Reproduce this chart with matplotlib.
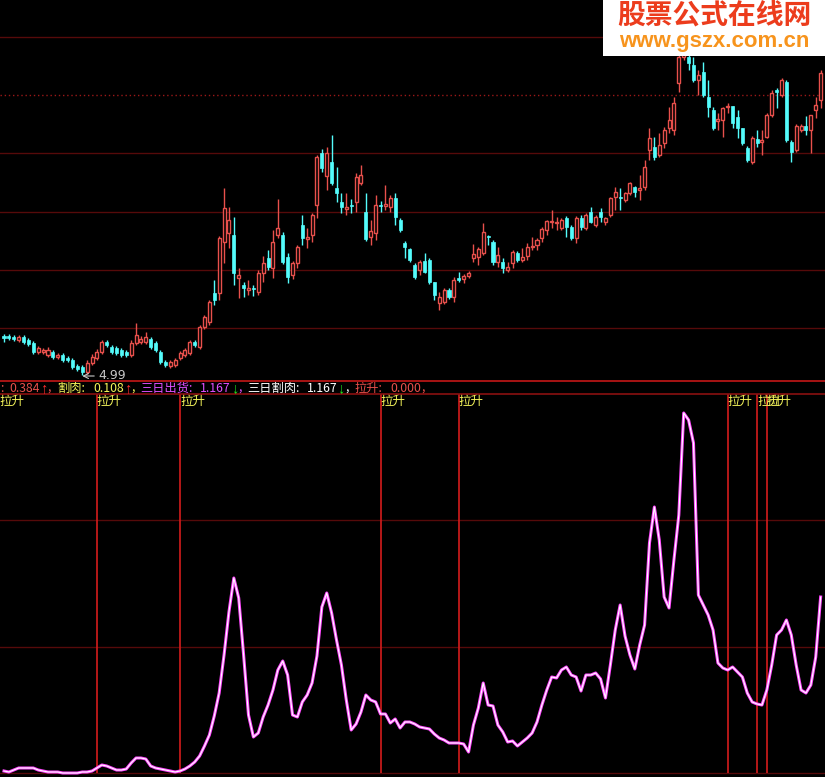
import numpy as np
import matplotlib
matplotlib.use('Agg')
import matplotlib.pyplot as plt
from matplotlib.patches import Rectangle
from matplotlib.lines import Line2D
from matplotlib.transforms import blended_transform_factory

plt.rcParams['font.family'] = ['Noto Sans CJK SC', 'DejaVu Sans']

# K线数据 (开 高 低 收)
opens = [5.38, 5.38, 5.37, 5.34, 5.37, 5.34, 5.31, 5.22, 5.22, 5.19,
         5.22, 5.17, 5.19, 5.16, 5.14, 5.08, 5.07, 5.02, 5.11, 5.16,
         5.22, 5.32, 5.27, 5.26, 5.24, 5.22, 5.19, 5.31, 5.32, 5.32,
         5.35, 5.31, 5.22, 5.12, 5.08, 5.09, 5.16, 5.19, 5.21, 5.32,
         5.27, 5.47, 5.52, 5.81, 5.81, 6.32, 6.41, 6.39, 5.96, 5.89,
         5.84, 5.86, 5.82, 6.01, 6.16, 6.06, 6.39, 6.39, 6.17, 5.99,
         6.11, 6.49, 6.35, 6.39, 6.69, 7.21, 6.98, 7.12, 6.86, 6.72,
         6.65, 6.69, 6.72, 6.91, 6.62, 6.37, 6.41, 6.69, 6.68, 6.67,
         6.76, 6.54, 6.31, 6.25, 6.09, 6.04, 6.13, 6.14, 5.92, 5.71,
         5.72, 5.84, 5.77, 5.96, 5.95, 5.98, 6.16, 6.17, 6.21, 6.38,
         6.32, 6.12, 6.12, 6.04, 6.11, 6.21, 6.14, 6.18, 6.27, 6.29,
         6.36, 6.44, 6.52, 6.51, 6.46, 6.56, 6.47, 6.36, 6.56, 6.46,
         6.62, 6.49, 6.62, 6.52, 6.59, 6.77, 6.77, 6.74, 6.81, 6.87,
         6.84, 6.87, 7.24, 7.27, 7.19, 7.31, 7.46, 7.44, 7.91, 8.17,
         8.17, 8.09, 7.94, 8.02, 7.77, 7.64, 7.53, 7.54, 7.67, 7.68,
         7.57, 7.46, 7.26, 7.12, 7.35, 7.32, 7.37, 7.59, 7.84, 7.79,
         7.92, 7.32, 7.24, 7.44, 7.48, 7.44, 7.64, 7.74]
closes = [5.36, 5.36, 5.35, 5.37, 5.32, 5.30, 5.22, 5.26, 5.24, 5.24,
          5.17, 5.19, 5.14, 5.14, 5.07, 5.05, 5.02, 5.11, 5.17, 5.22,
          5.32, 5.29, 5.22, 5.21, 5.19, 5.19, 5.31, 5.39, 5.35, 5.37,
          5.27, 5.24, 5.12, 5.09, 5.12, 5.14, 5.21, 5.24, 5.32, 5.29,
          5.47, 5.57, 5.72, 5.74, 6.36, 6.66, 6.54, 6.01, 5.99, 5.86,
          5.86, 5.85, 6.01, 6.11, 6.07, 6.32, 6.46, 6.12, 5.97, 6.11,
          6.27, 6.36, 6.37, 6.59, 7.17, 7.06, 7.21, 6.91, 6.81, 6.67,
          6.67, 6.68, 6.97, 6.99, 6.35, 6.43, 6.69, 6.68, 6.70, 6.76,
          6.57, 6.44, 6.27, 6.14, 5.97, 6.12, 6.02, 5.92, 5.79, 5.77,
          5.84, 5.77, 5.94, 5.94, 5.98, 6.01, 6.20, 6.25, 6.42, 6.37,
          6.12, 6.19, 6.06, 6.07, 6.22, 6.14, 6.17, 6.27, 6.28, 6.34,
          6.45, 6.53, 6.53, 6.52, 6.54, 6.47, 6.36, 6.56, 6.47, 6.59,
          6.52, 6.57, 6.57, 6.56, 6.76, 6.82, 6.76, 6.81, 6.91, 6.82,
          6.86, 7.07, 7.36, 7.17, 7.29, 7.44, 7.54, 7.71, 8.17, 8.29,
          8.11, 7.94, 7.99, 7.79, 7.67, 7.46, 7.55, 7.66, 7.68, 7.51,
          7.46, 7.31, 7.14, 7.36, 7.31, 7.34, 7.59, 7.81, 7.82, 7.94,
          7.34, 7.22, 7.48, 7.48, 7.44, 7.59, 7.69, 8.01]
highs = [5.40, 5.40, 5.39, 5.39, 5.39, 5.36, 5.33, 5.28, 5.26, 5.27,
         5.24, 5.21, 5.21, 5.18, 5.16, 5.10, 5.09, 5.14, 5.20, 5.25,
         5.34, 5.34, 5.29, 5.28, 5.26, 5.24, 5.34, 5.51, 5.38, 5.42,
         5.37, 5.33, 5.24, 5.14, 5.14, 5.16, 5.23, 5.26, 5.34, 5.34,
         5.49, 5.59, 5.74, 5.94, 6.38, 6.86, 6.67, 6.57, 6.06, 5.92,
         5.94, 5.89, 6.04, 6.18, 6.24, 6.44, 6.75, 6.42, 6.21, 6.13,
         6.29, 6.59, 6.46, 6.61, 7.19, 7.25, 7.27, 7.39, 7.07, 6.81,
         6.81, 6.75, 7.01, 7.09, 6.81, 6.54, 6.79, 6.73, 6.89, 6.79,
         6.81, 6.56, 6.33, 6.26, 6.11, 6.14, 6.21, 6.16, 5.92, 5.82,
         5.86, 5.86, 5.97, 6.02, 6.00, 6.03, 6.30, 6.27, 6.51, 6.39,
         6.34, 6.27, 6.16, 6.12, 6.24, 6.23, 6.26, 6.31, 6.37, 6.36,
         6.47, 6.54, 6.64, 6.57, 6.56, 6.58, 6.49, 6.58, 6.59, 6.61,
         6.67, 6.59, 6.66, 6.57, 6.77, 6.87, 6.86, 6.82, 6.92, 6.88,
         6.99, 7.14, 7.46, 7.37, 7.41, 7.47, 7.67, 7.77, 8.19, 8.34,
         8.19, 8.17, 8.04, 8.12, 7.94, 7.67, 7.61, 7.67, 7.71, 7.68,
         7.64, 7.46, 7.28, 7.38, 7.44, 7.44, 7.61, 7.84, 7.86, 7.96,
         7.94, 7.34, 7.50, 7.50, 7.58, 7.59, 7.77, 8.04]
lows = [5.32, 5.34, 5.33, 5.32, 5.30, 5.28, 5.20, 5.20, 5.20, 5.17,
        5.15, 5.15, 5.12, 5.12, 5.05, 5.03, 4.99, 5.00, 5.09, 5.14,
        5.20, 5.27, 5.20, 5.19, 5.17, 5.17, 5.17, 5.29, 5.30, 5.30,
        5.25, 5.22, 5.10, 5.07, 5.06, 5.07, 5.14, 5.17, 5.19, 5.27,
        5.25, 5.45, 5.49, 5.69, 5.74, 6.11, 6.26, 5.89, 5.76, 5.77,
        5.79, 5.78, 5.79, 5.92, 6.04, 5.96, 6.36, 6.10, 5.91, 5.95,
        6.06, 6.29, 6.26, 6.32, 6.56, 7.02, 6.84, 6.89, 6.72, 6.61,
        6.59, 6.61, 6.62, 6.89, 6.33, 6.29, 6.34, 6.62, 6.64, 6.62,
        6.49, 6.42, 6.16, 6.12, 5.95, 5.99, 6.01, 5.90, 5.74, 5.64,
        5.70, 5.75, 5.72, 5.92, 5.91, 5.96, 6.12, 6.09, 6.19, 6.29,
        6.09, 6.07, 6.01, 6.02, 6.06, 6.12, 6.12, 6.14, 6.24, 6.24,
        6.32, 6.39, 6.46, 6.44, 6.44, 6.37, 6.34, 6.31, 6.44, 6.44,
        6.51, 6.47, 6.52, 6.49, 6.57, 6.64, 6.64, 6.72, 6.79, 6.77,
        6.74, 6.84, 7.14, 7.14, 7.17, 7.26, 7.41, 7.39, 7.82, 8.14,
        8.04, 7.92, 7.79, 7.77, 7.57, 7.44, 7.44, 7.37, 7.61, 7.46,
        7.36, 7.29, 7.12, 7.10, 7.27, 7.19, 7.36, 7.57, 7.66, 7.77,
        7.32, 7.12, 7.22, 7.42, 7.39, 7.21, 7.56, 7.66]

# 副图指标 (三日出货 / 三日割肉 两条线重合)
sanri = [0.02, 0.01, 0.03, 0.05, 0.05, 0.05, 0.05, 0.03, 0.02, 0.01,
         0.01, 0.01, 0.00, 0.00, 0.00, 0.00, 0.01, 0.01, 0.02, 0.05,
         0.08, 0.07, 0.05, 0.03, 0.03, 0.04, 0.10, 0.15, 0.15, 0.14,
         0.07, 0.05, 0.04, 0.03, 0.02, 0.01, 0.02, 0.04, 0.07, 0.11,
         0.17, 0.27, 0.38, 0.57, 0.80, 1.18, 1.61, 1.95, 1.75, 1.18,
         0.58, 0.36, 0.40, 0.56, 0.68, 0.83, 1.03, 1.12, 0.98, 0.58,
         0.56, 0.71, 0.78, 0.90, 1.17, 1.66, 1.80, 1.60, 1.33, 1.08,
         0.73, 0.43, 0.49, 0.61, 0.78, 0.73, 0.71, 0.59, 0.59, 0.50,
         0.54, 0.45, 0.51, 0.51, 0.49, 0.46, 0.45, 0.44, 0.39, 0.35,
         0.33, 0.30, 0.30, 0.30, 0.29, 0.21, 0.48, 0.65, 0.90, 0.68,
         0.67, 0.48, 0.41, 0.31, 0.32, 0.27, 0.31, 0.35, 0.40, 0.51,
         0.68, 0.83, 0.96, 0.95, 1.03, 1.06, 0.98, 0.96, 0.82, 0.98,
         0.98, 1.00, 0.94, 0.75, 1.08, 1.43, 1.68, 1.37, 1.18, 1.04,
         1.28, 1.48, 2.30, 2.66, 2.33, 1.76, 1.65, 2.13, 2.58, 3.60,
         3.53, 3.30, 1.78, 1.68, 1.58, 1.43, 1.10, 1.05, 1.03, 1.06,
         1.01, 0.96, 0.80, 0.71, 0.69, 0.68, 0.83, 1.08, 1.38, 1.43,
         1.53, 1.38, 1.08, 0.83, 0.80, 0.88, 1.16, 1.76]

# 拉升信号所在K线
signal_idx = [-1, 19, 36, 77, 93, 148, 154, 156]

# 指标标题栏
hdr_names = [':', '割肉:', '三日出货:', '三日割肉:', '拉升:']
hdr_values = ['0.384', '0.108', '1.167', '1.167', '0.000']
hdr_arrows = ['↑', '↑', '↓', '↓', '']

RED = '#e8504c'
CYAN = '#54fcfc'
GRID = '#560a0a'

W, H = 825, 777
fig = plt.figure(figsize=(W / 100, H / 100), dpi=100, facecolor='black')


def fy(py):
    return 1 - py / H


ax = fig.add_axes([0, fy(381), 1, 381 / H])
ax2 = fig.add_axes([0, 0, 1, (H - 394) / H])
step = 4.89
for a in (ax, ax2):
    a.set_facecolor('black')
    a.set_xlim(-4 / step, (W - 4) / step)
    a.axis('off')

o = np.array(opens)
c = np.array(closes)
hi = np.array(highs)
lo = np.array(lows)
x = np.arange(len(o))
up = c >= o

ax.set_ylim(4.93, 8.74)
levels = 8.37 - 0.582 * np.arange(6)
for k, lv in enumerate(levels):
    if k == 1:
        ax.axhline(lv, color='#9a1818', lw=1, ls=(0, (1, 2)))
    else:
        ax.axhline(lv, color=GRID, lw=1)

ax.vlines(x, lo, hi, colors=np.where(up, RED, CYAN), lw=1, zorder=2)
bot = np.minimum(o, c)
hgt = np.maximum(np.abs(c - o), 0.01)
ax.bar(x[up], hgt[up], bottom=bot[up], width=0.62, facecolor='black',
       edgecolor=RED, lw=1, zorder=3)
ax.bar(x[~up], hgt[~up], bottom=bot[~up], width=0.62, facecolor=CYAN,
       edgecolor=CYAN, lw=0.5, zorder=3)

imin = int(np.argmin(lo))
ax.annotate(f'{lo[imin]:.2f}', xy=(imin, lo[imin] - 0.01),
            xytext=(imin + 3.3, lo[imin] - 0.01), color='#c8c8c8',
            fontsize=9, va='center', ha='left', family='DejaVu Sans',
            arrowprops=dict(arrowstyle='->', color='#c8c8c8', lw=0.8,
                            shrinkA=1, shrinkB=0))

# 副图
ax2.set_ylim(-0.04, 3.79)
for lv in np.linspace(0, 3.79, 4)[:3]:
    ax2.axhline(lv, color=GRID, lw=1)
ax2.plot(x, sanri, color='#ff48ff', lw=2.2, zorder=4)
ax2.plot(x, sanri, color='white', lw=0.8, zorder=5)

trans = blended_transform_factory(ax2.transData, ax2.transAxes)
for s in signal_idx:
    ax2.vlines(s, 0, 3.79, color='#d41c1c', lw=1.2, zorder=3)
    ax2.text(s, 0.998, '拉升', transform=trans, color='#f4f45a', fontsize=9,
             va='top', ha='left', zorder=6)

fig.add_artist(Line2D([0, 1], [fy(381), fy(381)], color='#c41818', lw=1.2,
                      transform=fig.transFigure))
fig.add_artist(Line2D([0, 1], [fy(394), fy(394)], color='#8a1010', lw=1.2,
                      transform=fig.transFigure))

# 标题栏文字
hdr_colors = [RED, '#f4f45a', '#e050ff', 'white', RED]
name_x = [0, 57, 140, 247, 354]
val_x = [9, 93, 200, 307, 390]
arrow_x = [40, 124, 231, 337, None]
comma_x = [47, 131, 238, 345, 421]
ty = fy(388)
for i in range(len(hdr_names)):
    col = hdr_colors[i]
    fig.text(name_x[i] / W, ty, hdr_names[i], color=col, fontsize=8.8, va='center')
    fig.text(val_x[i] / W, ty, hdr_values[i], color=col, fontsize=8.8, va='center')
    if hdr_arrows[i]:
        acol = '#ff3030' if hdr_arrows[i] == '↑' else '#20e020'
        fig.text(arrow_x[i] / W, ty, hdr_arrows[i], color=acol, fontsize=10.5,
                 family=['Liberation Sans', 'DejaVu Sans'], va='center')
    fig.text(comma_x[i] / W, ty, ',', color=col, fontsize=8.8, va='center')

# 水印
fig.add_artist(Rectangle((603 / W, fy(56)), 1 - 603 / W, 56 / H, facecolor='white',
                         edgecolor='none', transform=fig.transFigure, zorder=10))
fig.text(714 / W, fy(16), '股票公式在线网', color='#ec3c1c', fontsize=20,
         fontweight='bold', ha='center', va='center', zorder=11)
fig.text(714 / W, fy(41), 'www.gszx.com.cn', color='#f7941d', fontsize=16,
         fontweight='bold', family='Liberation Sans', ha='center', va='center',
         zorder=11)

fig.savefig('out.png', dpi=100, facecolor='black')
